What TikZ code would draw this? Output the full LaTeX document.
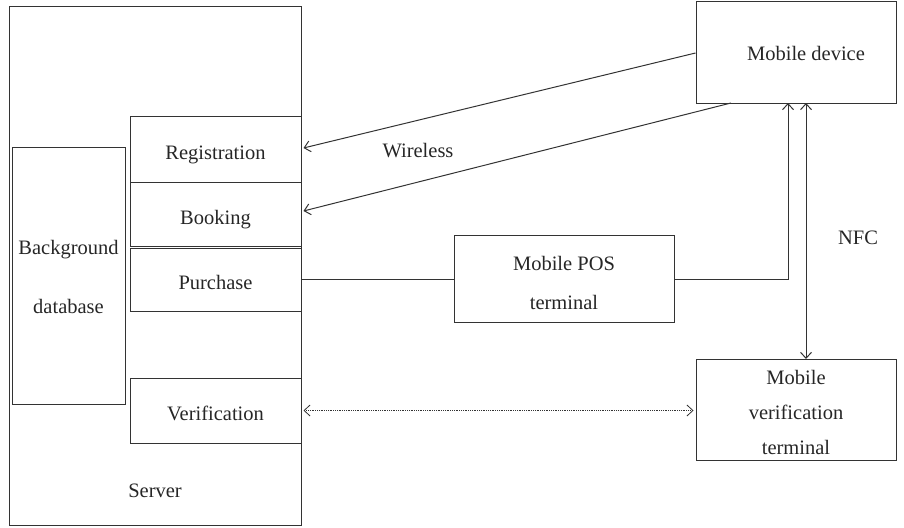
\documentclass[tikz,border=0pt]{standalone}
\usepackage{fontspec}
\setmainfont{Liberation Serif}
\usetikzlibrary{arrows.meta}
\begin{document}
\begin{tikzpicture}[x=1pt,y=-1pt,
  box/.style={draw=black!80, line width=1pt, inner sep=0pt},
  tbox/.style={box, text height=20pt, text depth=0pt},
  lbl/.style={font=\fontsize{20.5}{23}\selectfont, text=black!85},
  conn/.style={draw=black!80, line width=1pt},
  tip/.style={-{Straight Barb[length=6pt,width=11pt]}},
  every node/.style={lbl}]
\useasboundingbox (0,0) rectangle (904,527);
% server
\draw[box] (9,7) rectangle (301,525);
\node (server) at (155,491) {Server};
\draw[box] (12,147) rectangle (125,404);
\node[align=center] (db) at (68.5,277) {Background\\[36pt]database};
\node[tbox, minimum width=171pt, minimum height=66pt] (reg) at (215.5,149) {Registration};
\node[tbox, minimum width=171pt, minimum height=64pt] (book) at (215.5,214) {Booking};
\node[tbox, minimum width=171pt, minimum height=63pt] (pur) at (215.5,279.5) {Purchase};
\node[tbox, minimum width=171pt, minimum height=65pt] (ver) at (215.5,410.5) {Verification};
% right side
\node[box, minimum width=200pt, minimum height=101pt] (mob) at (796,52.5) {};
\node (mobt) at (806,53) {Mobile device};
\node[box, minimum width=220pt, minimum height=87pt] (pos) at (564,278.5) {};
\node[align=center] (post) at (564,283) {Mobile POS\\[16pt]terminal};
\node[box, minimum width=200pt, minimum height=101pt] (mvt) at (796,410) {};
\node[align=center] (mvtt) at (796,412) {Mobile\\[12pt]verification\\[12pt]terminal};
% wireless
\coordinate (m1) at (mob.west |- 0,53);
\coordinate (m2) at (731,103);
\draw[conn,tip] (m1) -- ([xshift=2pt]reg.east |- 0,148);
\draw[conn,tip] (m2) -- ([xshift=2pt]book.east |- 0,211);
\node (wl) at (418,151) {Wireless};
% POS
\coordinate (pc) at (788,279.5);
\draw[conn] (pur.east) -- (pos.west |- pur.east);
\draw[conn,tip] (pos.east |- pur.east) -- (pc) -- (788,103);
% NFC
\draw[conn,{Straight Barb[length=6pt,width=11pt]}-{Straight Barb[length=6pt,width=11pt]}] (806,103) -- (806,359);
\node (nfc) at (858,238) {NFC};
% dotted
\draw[conn, line width=0.8pt, densely dotted, {Straight Barb[length=6pt,width=11pt]}-{Straight Barb[length=6pt,width=11pt]}] ([xshift=2pt]ver.east) -- ([xshift=-2pt]mvt.west |- ver.east);
\end{tikzpicture}
\end{document}
